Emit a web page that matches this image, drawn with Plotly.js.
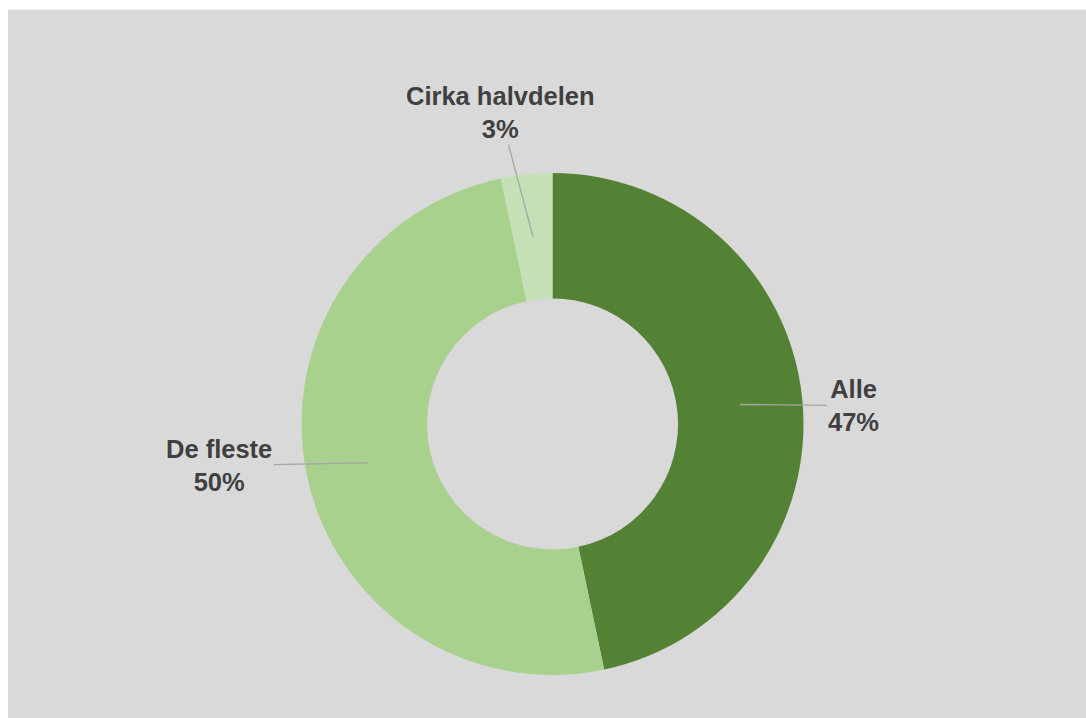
<!DOCTYPE html>
<html>
<head>
<meta charset="utf-8">
<script src="https://cdn.plot.ly/plotly-3.0.1.min.js"></script>
<style>html,body{margin:0;padding:0;background:#fff;}</style>
</head>
<body>
<div id="chart" style="width:1086px;height:718px;"></div>
<script>
// Data
const categories = ["Alle", "De fleste", "Cirka halvdelen"];
const values = [46.7, 50.0, 3.3];
const percentLabels = ["47%", "50%", "3%"];
const colors = ["#548235", "#A9D18E", "#C5E0B4"];

// Layout geometry (pixels)
const W = 1086, H = 718;
const M = {l: 8, r: 0, t: 10, b: 0};
const PW = W - M.l - M.r, PH = H - M.t - M.b;
const cx = 552.5, cy = 424, R = 251, holeFrac = 0.5;

function px2paperX(x) { return (x - M.l) / PW; }
function px2paperY(y) { return (H - M.b - y) / PH; }

const domain = {
  x: [px2paperX(cx - R), px2paperX(cx + R)],
  y: [px2paperY(cy + R), px2paperY(cy - R)]
};

// Label text offsets (pixels from leader start point)
const labelOffsets = [[114, 1], [-149, 3], [-33, -124]];

const total = values.reduce((a, b) => a + b, 0);
const rMid = R * (1 + holeFrac) / 2;
let cum = 0;
const annotations = values.map((v, i) => {
  const mid = (cum + v / 2) / total * 2 * Math.PI;
  cum += v;
  const px = cx + rMid * Math.sin(mid);
  const py = cy - rMid * Math.cos(mid);
  return {
    xref: "paper", yref: "paper",
    x: px2paperX(px), y: px2paperY(py),
    ax: labelOffsets[i][0], ay: labelOffsets[i][1],
    showarrow: true, arrowhead: 0, arrowwidth: 1.3, arrowcolor: "#A6A6A6",
    standoff: 0,
    text: "<b>" + categories[i] + "<br>" + percentLabels[i] + "</b>",
    font: {family: "Liberation Sans, Arial, sans-serif", size: 25.5, color: "#404040"},
    align: "center"
  };
});

const trace = {
  type: "pie",
  labels: categories,
  values: values,
  hole: holeFrac,
  sort: false,
  direction: "clockwise",
  rotation: 0,
  textinfo: "none",
  hoverinfo: "label+percent",
  marker: {colors: colors, line: {width: 0}},
  domain: domain,
  showlegend: false
};

const layout = {
  width: W, height: H,
  margin: M,
  paper_bgcolor: "#FFFFFF",
  showlegend: false,
  shapes: [{
    type: "rect", xref: "paper", yref: "paper",
    x0: 0, x1: 1, y0: 0, y1: 1,
    fillcolor: "#D9D9D9", line: {width: 0}, layer: "below"
  }, {
    type: "line", xref: "paper", yref: "paper",
    x0: 0, x1: 1, y0: 1, y1: 1,
    line: {width: 1, color: "#E3E3E3"}, layer: "below"
  }],
  annotations: annotations
};

Plotly.newPlot("chart", [trace], layout, {displayModeBar: false, staticPlot: true});
</script>
</body>
</html>
